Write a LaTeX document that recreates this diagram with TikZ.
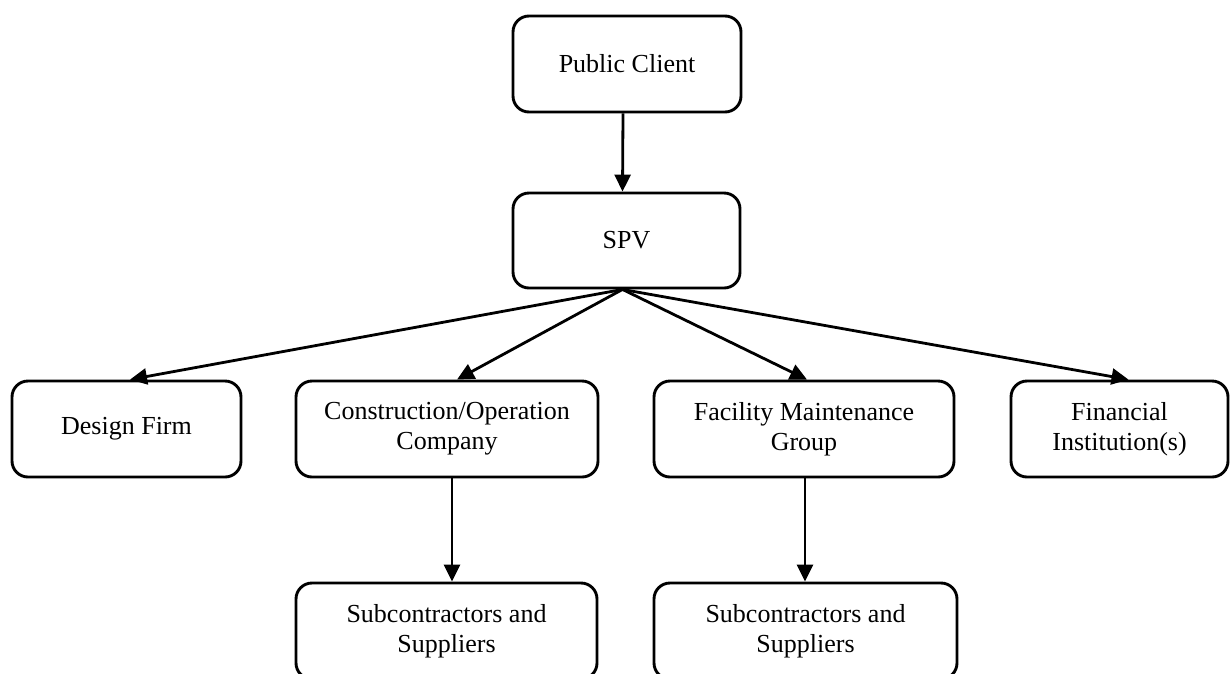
\documentclass[tikz,border=0pt]{standalone}
\usepackage{fontspec}
\setmainfont{Liberation Serif}
\usetikzlibrary{arrows.meta,calc}

\begin{document}
\begin{tikzpicture}[
  x=1pt, y=-1pt,
  every node/.style={font=\fontsize{26}{30}\selectfont},
  box/.style={draw, line width=2.9pt, rounded corners=16pt, inner sep=0pt,
              minimum height=96pt, align=center},
  link/.style={line width=2.8pt, -{Triangle[length=17pt,width=16pt]}}
]
  % page frame
  \fill[white] (0,0) rectangle (1230,673);
  \useasboundingbox (0,0) rectangle (1230,673);

  % top chain
  \node[box, minimum width=228pt] (pc)  at (627,64)    {Public Client};
  \node[box, minimum width=227pt, minimum height=95pt] (spv) at (626.5,240.5) {SPV};

  % SPV partners
  \node[box, minimum width=229pt] (df)  at (126.5,429) {Design Firm};
  \node[box, minimum width=302pt] (coc) at (447,429)   {Construction/Operation\\Company};
  \node[box, minimum width=300pt] (fmg) at (804,429)   {Facility Maintenance\\Group};
  \node[box, minimum width=217pt] (fi)  at (1119.5,429) {Financial\\Institution(s)};

  % subcontracting level
  \node[box, minimum width=301pt] (sub1) at (446.5,631) {Subcontractors and\\Suppliers};
  \node[box, minimum width=303pt] (sub2) at (805.5,631) {Subcontractors and\\Suppliers};

  % connectors
  \draw[link] ($(pc.south)+(-4,0)$) -- ($(spv.north)+(-4,0)$);
  \draw[link] ($(spv.south)+(-4,0)$) -- ($(df.north)+(3.5,0)$);
  \draw[link] ($(spv.south)+(-4,0)$) -- ($(coc.north)+(10,0)$);
  \draw[link] ($(spv.south)+(-4,0)$) -- ($(fmg.north)+(3,0)$);
  \draw[link] ($(spv.south)+(-4,0)$) -- ($(fi.north)+(9,0)$);
  \draw[link] ($(coc.south)+(5,0)$) -- ($(sub1.north)+(5.5,0)$);
  \draw[link] ($(fmg.south)+(1,0)$) -- ($(sub2.north)+(-0.5,0)$);
\end{tikzpicture}
\end{document}
